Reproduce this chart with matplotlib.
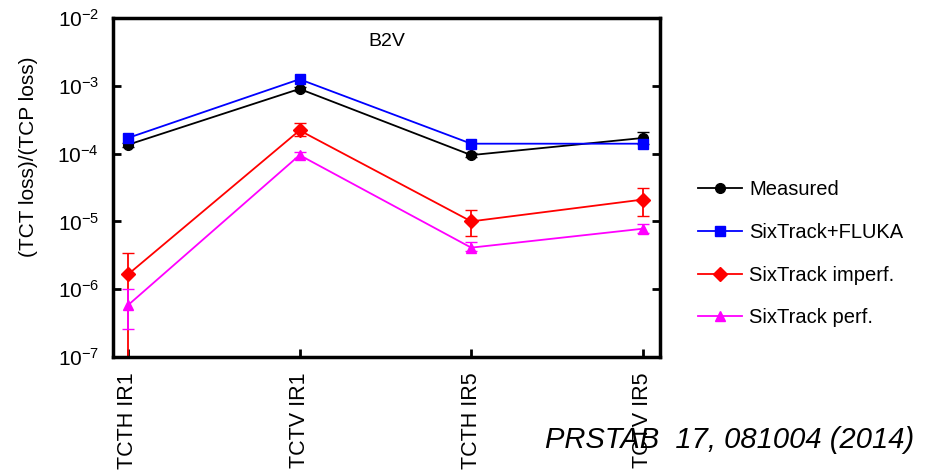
import matplotlib
matplotlib.use("Agg")
import matplotlib.pyplot as plt
import numpy as np

plt.rcParams['font.family'] = ['Liberation Sans', 'DejaVu Sans']

categories = ["TCTH IR1", "TCTV IR1", "TCTH IR5", "TCTV IR5"]
measured = [1.35e-4, 9.0e-4, 9.5e-5, 1.7e-4]
measured_lo = [1.25e-4, 8.3e-4, 8.8e-5, 1.4e-4]
measured_hi = [1.45e-4, 9.7e-4, 1.02e-4, 2.1e-4]
fluka = [1.7e-4, 1.25e-3, 1.4e-4, 1.4e-4]
imperf = [1.65e-6, 2.2e-4, 1.0e-5, 2.1e-5]
imperf_lo = [1.0e-7, 1.8e-4, 6.0e-6, 1.2e-5]
imperf_hi = [3.4e-6, 2.8e-4, 1.45e-5, 3.1e-5]
perf = [5.8e-7, 9.5e-5, 4.1e-6, 7.8e-6]
perf_lo = [2.6e-7, 8.5e-5, 3.6e-6, 6.8e-6]
perf_hi = [1.0e-6, 1.05e-4, 5.0e-6, 9.2e-6]

fig = plt.figure(figsize=(9.26, 4.72), dpi=100)
ax = fig.add_axes([113/926, 1-357/472, (660-113)/926, (357-18)/472])

x = np.arange(len(categories))

def err(v, lo, hi):
    v = np.array(v); return [v-np.array(lo), np.array(hi)-v]

series = [
    ('Measured', measured, measured_lo, measured_hi, 'black', 'o'),
    ('SixTrack+FLUKA', fluka, None, None, 'blue', 's'),
    ('SixTrack imperf.', imperf, imperf_lo, imperf_hi, 'red', 'D'),
    ('SixTrack perf.', perf, perf_lo, perf_hi, 'magenta', '^'),
]
for label, v, lo, hi, c, m in series:
    if lo is not None:
        ax.errorbar(x, v, yerr=err(v, lo, hi), color=c, fmt='none', lw=1.3, capsize=4)
    ax.plot(x, v, color=c, marker=m, ms=7, lw=1.3, label=label)

ax.set_yscale('log')
ax.set_ylim(1e-7, 1e-2)
ax.set_xlim(-0.087, 3.1)
ax.set_xticks(x)
ax.set_xticklabels(categories, rotation=90, fontsize=15.5, va='top')
ax.yaxis.set_minor_locator(matplotlib.ticker.NullLocator())
ax.set_yticks([1e-7, 1e-6, 1e-5, 1e-4, 1e-3, 1e-2])
ax.tick_params(axis='y', which='major', direction='in', right=True, length=6, width=2, labelsize=15, pad=10)
ax.tick_params(axis='x', which='major', direction='in', length=6, width=2, pad=11)
for s in ax.spines.values():
    s.set_linewidth(2.5)
ax.set_ylabel('(TCT loss)/(TCP loss)', fontsize=15)
ax.yaxis.set_label_coords(-0.137, 0.59)
ax.text(0.5, 0.93, 'B2V', transform=ax.transAxes, ha='center', va='center', fontsize=14)

leg = fig.legend(loc='upper left', bbox_to_anchor=(680/926, 1-162/472), frameon=False,
                 fontsize=14.5, handlelength=2.2, handletextpad=0.35, labelspacing=1.18)

fig.text(545/926, 1-440/472, 'PRSTAB  17, 081004 (2014)', fontsize=21, style='italic',
         family=['Liberation Sans Narrow', 'Liberation Sans'], va='center', ha='left')

fig.savefig('out.png', dpi=100)
